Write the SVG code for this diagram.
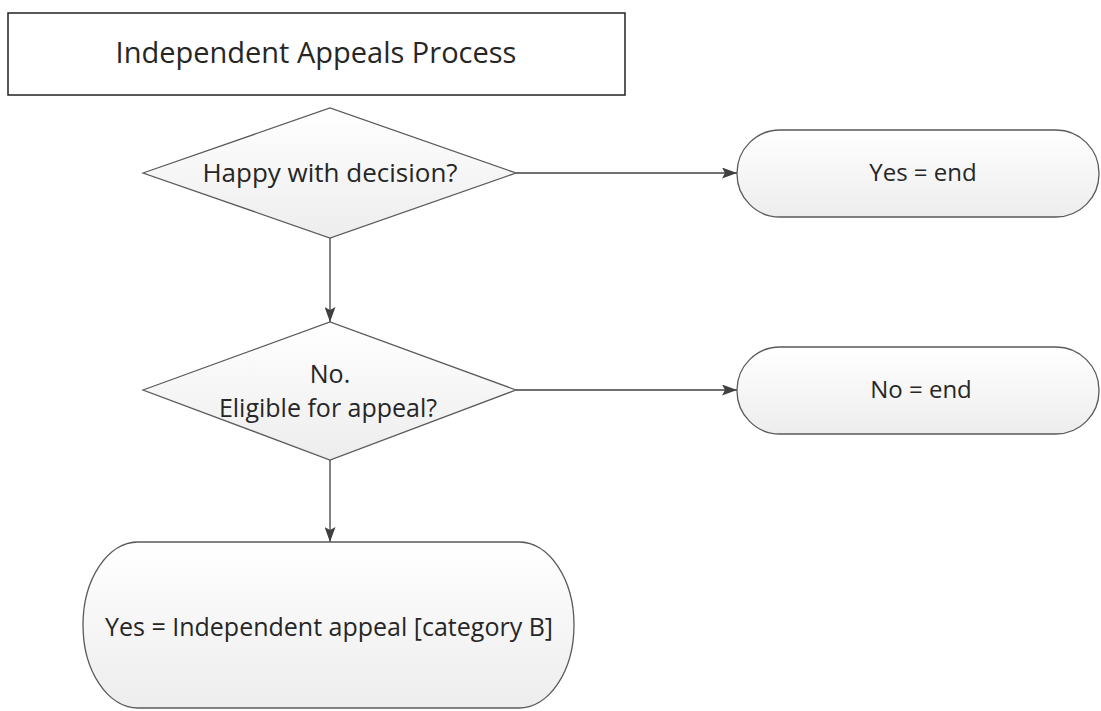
<svg xmlns="http://www.w3.org/2000/svg" width="1101" height="711" viewBox="0 0 1101 711">
<style>
.shape{fill:url(#g);stroke:#5a5a5a;stroke-width:1.3}
.t{font-family:"Open Sans","Liberation Sans",sans-serif;font-size:24px;fill:#262626;text-anchor:middle}
.conn{stroke:#404040;stroke-width:1.3;fill:none;marker-end:url(#arr)}
</style>
<defs>
<linearGradient id="g" x1="0" y1="0" x2="0" y2="1">
<stop offset="0" stop-color="#ffffff"/>
<stop offset="1" stop-color="#ededed"/>
</linearGradient>
<marker id="arr" markerWidth="15" markerHeight="11" refX="15" refY="5.5" orient="auto" markerUnits="userSpaceOnUse">
<path d="M0,0 L15,5.5 L0,11 L3,5.5 Z" fill="#404040"/>
</marker>
</defs>
<rect width="1101" height="711" fill="#ffffff"/>
<g id="title">
<rect x="8" y="13" width="617" height="82" fill="#ffffff" stroke="#222" stroke-width="1.5"/>
<text class="t" x="316" y="63" style="font-size:29px">Independent Appeals Process</text>
</g>
<g id="connectors">
<line class="conn" x1="516" y1="173" x2="737" y2="173"/>
<line class="conn" x1="330" y1="238" x2="330" y2="322"/>
<line class="conn" x1="516" y1="390" x2="737" y2="390"/>
<line class="conn" x1="330" y1="460" x2="330" y2="542"/>
</g>
<g id="d1">
<polygon class="shape" points="143,173 330,108 516,173 330,238"/>
<text class="t" x="330" y="182" style="font-size:26px">Happy with decision?</text>
</g>
<g id="end1">
<rect class="shape" x="737" y="130" width="362" height="87" rx="43" ry="43"/>
<text class="t" x="923" y="181">Yes = end</text>
</g>
<g id="d2">
<polygon class="shape" points="143,390 330,322 516,390 330,460"/>
<text class="t" x="330" y="383" style="font-size:25px">No.</text>
<text class="t" x="328" y="417" style="font-size:25px">Eligible for appeal?</text>
</g>
<g id="end2">
<rect class="shape" x="737" y="347" width="362" height="87" rx="43" ry="43"/>
<text class="t" x="921" y="398">No = end</text>
</g>
<g id="end3">
<rect class="shape" x="83" y="542" width="491" height="166" rx="55" ry="83"/>
<text class="t" x="329" y="636" style="font-size:25px">Yes = Independent appeal [category B]</text>
</g>
</svg>
